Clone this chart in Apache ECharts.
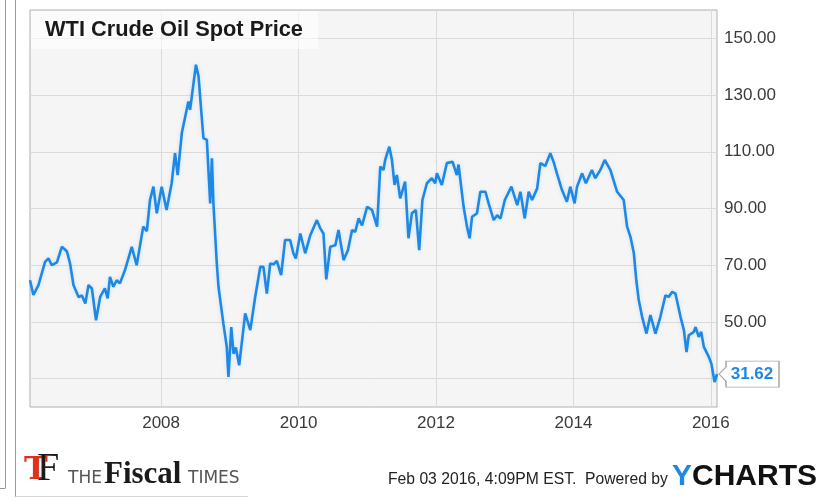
<!DOCTYPE html>
<html>
<head>
<meta charset="utf-8">
<script src="https://cdn.jsdelivr.net/npm/echarts@6/dist/echarts.min.js"></script>
<style>
html,body{margin:0;padding:0;background:#fff;}
#chart{width:824px;height:498px;}
</style>
</head>
<body>
<div id="chart"></div>
<script>
var dates = ['2006-02-03','2006-02-21','2006-03-20','2006-04-24','2006-05-12','2006-05-30','2006-06-26','2006-07-22','2006-08-18','2006-09-04','2006-09-22','2006-10-19','2006-11-06','2006-11-24','2006-12-11','2006-12-29',
'2007-01-20','2007-02-11','2007-03-08','2007-03-23','2007-04-04','2007-04-22','2007-05-10','2007-05-27','2007-06-23','2007-07-29','2007-08-24','2007-09-28','2007-10-17','2007-11-03','2007-11-21','2007-12-09',
'2008-01-04','2008-01-30','2008-02-26','2008-03-15','2008-03-29','2008-04-20','2008-05-25','2008-06-03','2008-07-04','2008-07-18','2008-08-05','2008-08-13','2008-08-31','2008-09-18','2008-09-27','2008-10-05','2008-10-23','2008-11-01','2008-11-27','2008-12-15','2008-12-24',
'2009-01-08','2009-01-20','2009-02-01','2009-02-19','2009-03-23','2009-04-19','2009-05-15','2009-06-11','2009-06-28','2009-07-16','2009-08-03','2009-08-20','2009-09-07','2009-09-30','2009-10-21','2009-11-17','2009-12-04','2009-12-17',
'2010-01-10','2010-02-05','2010-03-04','2010-04-08','2010-04-26','2010-05-13','2010-05-28','2010-06-18','2010-07-15','2010-08-01','2010-08-28','2010-09-20','2010-10-12','2010-10-29','2010-11-16','2010-12-04','2010-12-31',
'2011-01-26','2011-02-22','2011-03-11','2011-03-28','2011-04-06','2011-04-28','2011-05-12','2011-05-26','2011-06-07','2011-06-25','2011-07-21','2011-08-08','2011-08-26','2011-09-16','2011-10-04','2011-10-21','2011-11-14','2011-12-10','2011-12-28',
'2012-01-06','2012-02-01','2012-02-28','2012-03-29','2012-04-21','2012-04-30','2012-05-27','2012-06-14','2012-06-28','2012-07-11','2012-08-06','2012-08-24','2012-09-20','2012-10-07','2012-11-03','2012-11-21','2012-12-09',
'2013-01-01','2013-02-05','2013-03-08','2013-03-25','2013-04-17','2013-05-08','2013-05-26','2013-06-22','2013-07-09','2013-08-04','2013-08-31','2013-09-17','2013-10-05','2013-11-01','2013-11-27','2013-12-15',
'2014-01-07','2014-01-20','2014-02-16','2014-03-08','2014-04-09','2014-04-27','2014-05-24','2014-06-16','2014-07-16','2014-08-21','2014-09-25','2014-10-13','2014-10-31','2014-11-18','2014-12-01','2014-12-14',
'2015-01-01','2015-01-24','2015-02-14','2015-03-13','2015-04-08','2015-05-05','2015-05-22','2015-06-10','2015-06-27','2015-07-24','2015-08-11','2015-08-25','2015-09-06','2015-10-03','2015-10-12','2015-10-29','2015-11-11','2015-11-25','2015-12-22',
'2016-01-04','2016-01-21','2016-02-03'];

var prices = [64.7,59.5,63,71.2,72.4,70,71,76.5,74.9,70.6,63,58.8,59.3,56.5,63,61.8,
50.6,58.8,61.8,58.3,65.9,62.4,64.7,63.6,68.3,76.5,70,83.6,82,93,97.7,88.3,
97.7,89.5,98.9,109.5,101.8,116.6,127.7,124.8,140.7,136.6,121.3,114.8,114.2,91.8,107.7,91.8,70.6,62.4,49.4,41.2,30.6,
48.2,38.8,41,34.7,53,47.1,58.8,69.4,69.4,60,70.6,70.3,71.5,66.5,78.9,78.9,74.2,72.4,
81.2,74.2,80.6,85.9,83,81.2,65,76.5,77,82.4,71.8,75.3,82.4,81.8,86.5,84,90.6,
89.5,83.6,104.8,103.6,107.1,111.8,107.1,98.3,101.8,93.6,99.5,79.5,88.3,89.5,75.3,93,98.9,100.7,98.9,
102.4,98.3,106,106.5,101.8,105.5,90.6,83.6,79.5,87.1,88.3,95.9,95.9,91.8,85.9,87.6,86.5,
93,97.7,91.2,95.9,86.5,95.9,93,97.1,106,105,109.5,106.5,102.4,96.5,92.4,97.7,
91.8,97.7,102.4,98.9,103.6,100.7,103.6,107.1,103.6,95.9,93,83.6,80,74.2,64.7,57.7,
51.8,45.9,52.4,45.9,51.8,59.4,58.8,60.6,60,51.8,47.1,39.4,45.3,46.5,48.2,44.7,46.5,41.2,37.6,
35.3,28.8,31.62];

var xTickDates = ['2008-01-01','2010-01-01','2012-01-01','2014-01-01','2016-01-01'];
var yTicks = [30,50,70,90,110,130,150];
var xRange = ['2006-02-03','2016-02-03'];
var yRange = [20,160];

function ts(s){ return Date.parse(s + 'T00:00:00Z'); }

var seriesData = dates.map(function(d,i){ return [ts(d), prices[i]]; });
var last = seriesData[seriesData.length-1];

var chart = echarts.init(document.getElementById('chart'), null, {renderer:'canvas'});
var FONT = "'Liberation Sans', Arial, sans-serif";

var option = {
  animation: false,
  backgroundColor: '#ffffff',
  grid: {
    left: 30, right: 107, top: 10, bottom: 91,
    show: true, backgroundColor: '#f5f5f5', borderColor: '#b0b0b0', borderWidth: 1
  },
  xAxis: {
    type: 'value',
    min: ts(xRange[0]), max: ts(xRange[1]),
    axisLine: {show: false},
    axisTick: {show: false, customValues: xTickDates.map(ts)},
    axisLabel: {
      customValues: xTickDates.map(ts),
      formatter: function(v){ return String(new Date(v).getUTCFullYear()); },
      fontSize: 17, color: '#3a3a3a', fontFamily: FONT, margin: 8
    },
    splitLine: {show: true, lineStyle: {color: '#dadada', width: 1}}
  },
  yAxis: {
    type: 'value', position: 'right',
    min: yRange[0], max: yRange[1],
    axisLine: {show: false},
    axisTick: {show: false, customValues: yTicks},
    axisLabel: {
      customValues: yTicks,
      formatter: function(v){ return v.toFixed(2); },
      fontSize: 17, color: '#3a3a3a', fontFamily: FONT, margin: 7
    },
    splitLine: {show: true, lineStyle: {color: '#dadada', width: 1}}
  },
  series: [{
    type: 'line',
    data: seriesData,
    showSymbol: false,
    symbol: 'none',
    lineStyle: {color: '#1e88e5', width: 2.6, shadowColor: 'rgba(30,136,229,0.18)', shadowBlur: 4},
    z: 5,
    markPoint: {
      silent: true,
      symbol: 'path://M0,13 L7,6 L7,0 L60,0 L60,26 L7,26 L7,20 Z',
      symbolSize: [60, 26],
      symbolOffset: [32, 0],
      itemStyle: {color: '#ffffff', borderColor: '#a8a8a8', borderWidth: 1},
      label: {
        show: true, position: 'inside', offset: [3, 0],
        formatter: function(){ return last[1].toFixed(2); },
        color: '#1e88e5', fontWeight: 'bold', fontSize: 17, fontFamily: FONT
      },
      data: [{coord: last, value: last[1]}]
    }
  }],
  graphic: [
    {type: 'rect', z: 10, shape: {x: 31, y: 11, width: 287, height: 38}, style: {fill: 'rgba(255,255,255,0.6)'}},
    {type: 'text', z: 11, x: 45, y: 30, style: {text: 'WTI Crude Oil Spot Price', font: "bold 21.8px 'Liberation Sans', Arial, sans-serif", fill: '#1a1a1a', verticalAlign: 'middle'}},
    // page frame artifacts
    {type: 'line', shape: {x1: 5.5, y1: 0, x2: 5.5, y2: 488}, style: {stroke: '#9a9a9a', lineWidth: 1}},
    {type: 'line', shape: {x1: 0, y1: 488.5, x2: 5.5, y2: 488.5}, style: {stroke: '#9a9a9a', lineWidth: 1}},
    {type: 'line', shape: {x1: 15.5, y1: 0, x2: 15.5, y2: 497}, style: {stroke: '#9a9a9a', lineWidth: 1}},
    {type: 'line', shape: {x1: 15.5, y1: 496.5, x2: 248, y2: 496.5}, style: {stroke: '#d6d6d6', lineWidth: 1}},
    // Fiscal Times logo
    {type: 'text', x: 24, y: 487, style: {text: 'T', font: "bold 32px 'DejaVu Serif', serif", fill: '#e0301e', verticalAlign: 'bottom'}},
    {type: 'text', x: 37, y: 489, style: {text: 'F', font: "40px 'Liberation Serif', serif", fill: '#1a1a1a', verticalAlign: 'bottom'}},
    {type: 'text', x: 68, y: 487, style: {text: 'THE', font: "17px 'DejaVu Sans', sans-serif", fill: '#555555', verticalAlign: 'bottom'}},
    {type: 'text', x: 104, y: 490, style: {text: 'Fiscal', font: "bold 31px 'Liberation Serif', serif", fill: '#1a1a1a', verticalAlign: 'bottom'}},
    {type: 'text', x: 188, y: 487, style: {text: 'TIMES', font: "17px 'DejaVu Sans', sans-serif", fill: '#555555', verticalAlign: 'bottom'}},
    // footer right
    {type: 'text', x: 388, y: 480, style: {text: 'Feb 03 2016, 4:09PM EST.  Powered by', font: "15.7px 'Liberation Sans', Arial, sans-serif", fill: '#222222', verticalAlign: 'middle'}},
    {type: 'text', x: 672, y: 477, style: {rich: {y: {fill: '#1e88e5', font: "bold 30px 'Liberation Sans', Arial, sans-serif"}, c: {fill: '#111111', font: "bold 30px 'Liberation Sans', Arial, sans-serif"}}, text: '{y|Y}{c|CHARTS}', verticalAlign: 'middle'}}
  ]
};
chart.setOption(option);
</script>
</body>
</html>
